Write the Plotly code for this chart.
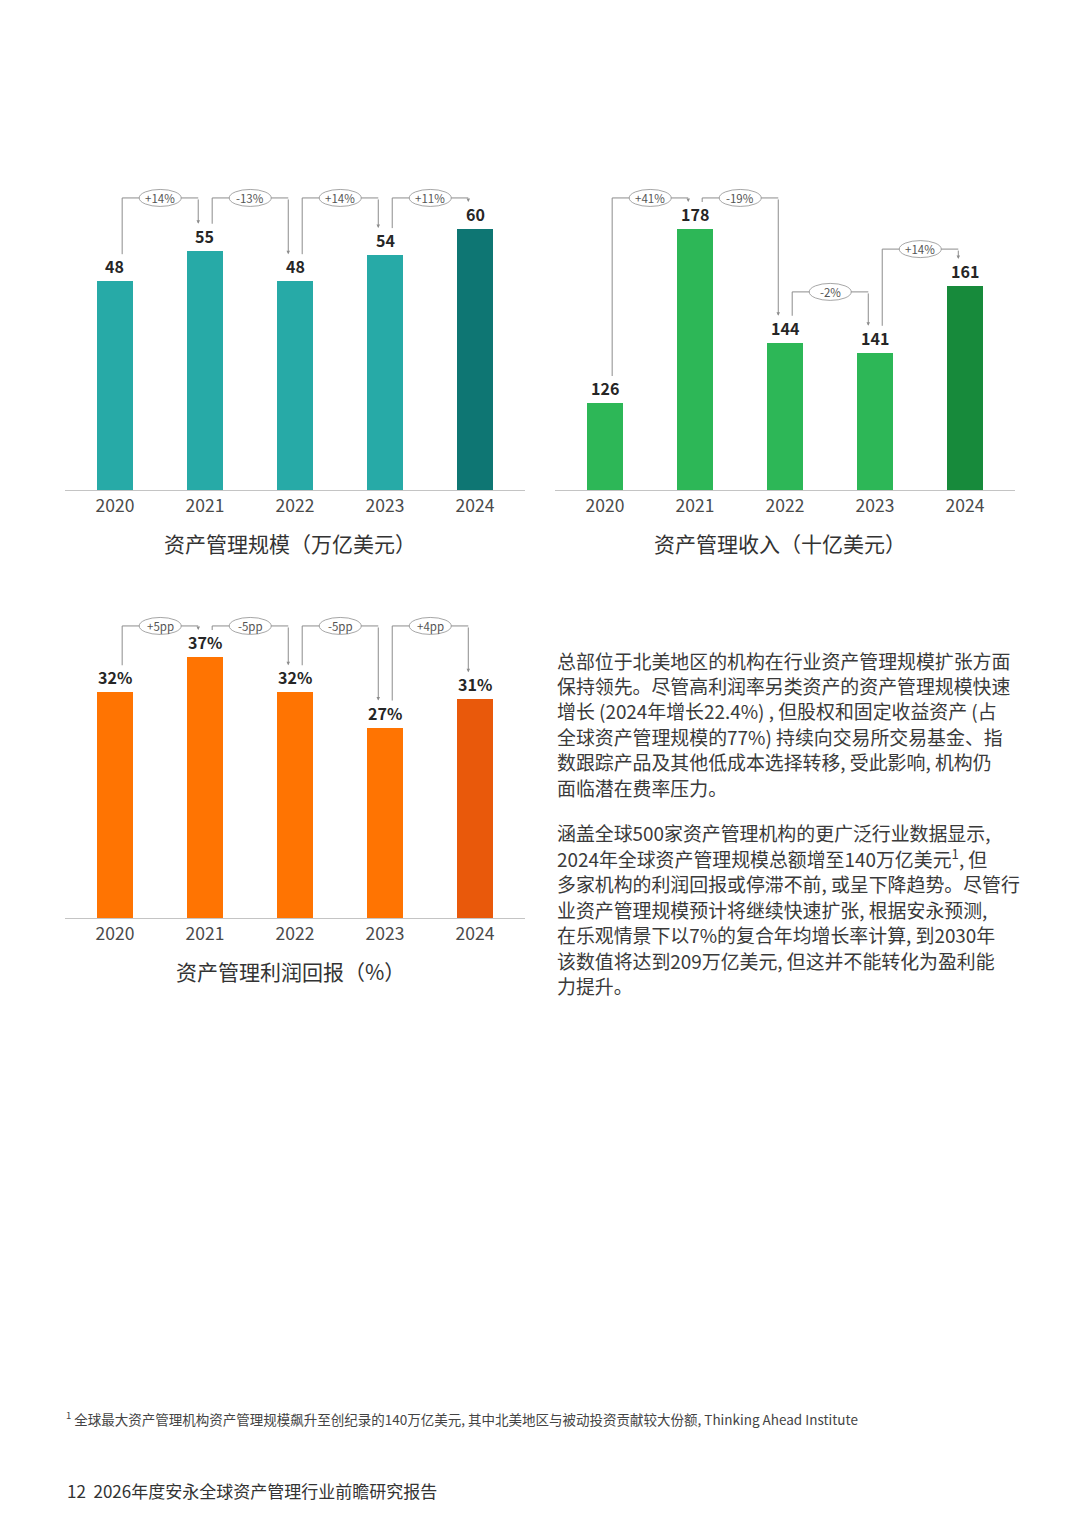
import plotly.graph_objects as go

# %% Data
years = ["2020", "2021", "2022", "2023", "2024"]

aum = [48, 55, 48, 54, 60]
aum_change = ["+14%", "-13%", "+14%", "+11%"]

revenue = [126, 178, 144, 141, 161]
revenue_change = ["+41%", "-19%", "-2%", "+14%"]

profit = [32, 37, 32, 27, 31]
profit_change = ["+5pp", "-5pp", "-5pp", "+4pp"]

para1 = [
    "总部位于北美地区的机构在行业资产管理规模扩张方面",
    "保持领先。尽管高利润率另类资产的资产管理规模快速",
    "增长 (2024年增长22.4%) , 但股权和固定收益资产 (占",
    "全球资产管理规模的77%) 持续向交易所交易基金、指",
    "数跟踪产品及其他低成本选择转移, 受此影响, 机构仍",
    "面临潜在费率压力。",
]
para2 = [
    "涵盖全球500家资产管理机构的更广泛行业数据显示,",
    "2024年全球资产管理规模总额增至140万亿美元<sup>1</sup>, 但",
    "多家机构的利润回报或停滞不前, 或呈下降趋势。尽管行",
    "业资产管理规模预计将继续快速扩张, 根据安永预测,",
    "在乐观情景下以7%的复合年均增长率计算, 到2030年",
    "该数值将达到209万亿美元, 但这并不能转化为盈利能",
    "力提升。",
]
footnote = ("<sup>1</sup> 全球最大资产管理机构资产管理规模飙升至创纪录的140万亿美元, "
            "其中北美地区与被动投资贡献较大份额, Thinking Ahead Institute")
footer = "12  2026年度安永全球资产管理行业前瞻研究报告"

# %% Layout helpers
W, H = 1080, 1526
OFF = 8          # page body margin of the html file
FONT = "Noto Sans CJK SC"


def py(px):
    return 1 - (px - OFF) / H


def px_(px):
    return (px - OFF) / W


charts = [
    dict(ax="", vals=aum, chg=aum_change, suffix="", base_val=0,
         color="#27AAA7", last="#0E7673", title="资产管理规模（万亿美元）",
         xdom=(65, 525), base=490, levels=[1.119, 1.119, 1.119, 1.119]),
    dict(ax="2", vals=revenue, chg=revenue_change, suffix="", base_val=100,
         color="#2DB757", last="#178A3B", title="资产管理收入（十亿美元）",
         xdom=(555, 1015), base=490, levels=[1.119, 1.119, 0.759, 0.923]),
    dict(ax="3", vals=profit, chg=profit_change, suffix="%", base_val=0,
         color="#FF7402", last="#E9590B", title="资产管理利润回报（%）",
         xdom=(65, 525), base=918, levels=[1.119, 1.119, 1.119, 1.119]),
]

PLOT_H = 320   # plot area height in px
PEAK_H = 261   # px height of the tallest bar
GAP = 27       # px between bar top and bracket end

fig = go.Figure()
shapes = []
annotations = []
layout = {}

for c in charts:
    xa, ya = "x" + c["ax"], "y" + c["ax"]
    b0 = c["base_val"]
    span = max(c["vals"]) - b0
    ymax = b0 + span * PLOT_H / PEAK_H
    gap = span * GAP / PEAK_H
    colors = [c["color"]] * (len(years) - 1) + [c["last"]]

    fig.add_trace(go.Bar(
        x=list(range(len(years))), y=[v - b0 for v in c["vals"]], base=b0,
        marker_color=colors, marker_line_width=0, width=0.4,
        xaxis=xa, yaxis=ya, hoverinfo="skip", showlegend=False,
    ))

    layout["xaxis" + c["ax"]] = dict(
        domain=[px_(c["xdom"][0]), px_(c["xdom"][1])], range=[-0.555, 4.555],
        anchor=ya, tickvals=list(range(len(years))), ticktext=years,
        showline=True, linecolor="#c4c4c4", linewidth=1, showgrid=False,
        zeroline=False, ticks="", tickfont=dict(size=17.5, color="#4a4a4a", family=FONT),
        fixedrange=True,
    )
    layout["yaxis" + c["ax"]] = dict(
        domain=[py(c["base"]), py(c["base"] - PLOT_H)], range=[b0, ymax],
        anchor=xa, visible=False, fixedrange=True,
    )

    # value labels
    for i, v in enumerate(c["vals"]):
        annotations.append(dict(
            x=i, y=v, xref=xa, yref=ya, text=f"<b>{v}{c['suffix']}</b>",
            showarrow=False, yanchor="bottom", yshift=1,
            font=dict(size=16, color="#262626", family=FONT),
        ))

    # change brackets
    for i, label in enumerate(c["chg"]):
        top = b0 + span * c["levels"][i]
        x_l, x_r = i + 0.08, i + 1 - 0.075
        y_l = c["vals"][i] + gap
        y_r = c["vals"][i + 1] + gap
        shapes.append(dict(
            type="path", xref=xa, yref=ya,
            path=f"M {x_l},{y_l} L {x_l},{top} L {x_r},{top}",
            line=dict(color="#8c8c8c", width=1),
        ))
        annotations.append(dict(
            x=x_r, y=y_r, ax=x_r, ay=top, xref=xa, yref=ya, axref=xa, ayref=ya,
            text="", showarrow=True, arrowhead=2, arrowsize=0.7, arrowwidth=1,
            arrowcolor="#8c8c8c", standoff=0,
        ))
        mid = (x_l + x_r) / 2
        shapes.append(dict(
            type="circle", xref=xa, yref=ya, xsizemode="pixel", ysizemode="pixel",
            xanchor=mid, yanchor=top, x0=-21, x1=21, y0=-8.5, y1=8.5,
            fillcolor="white", line=dict(color="#8f8f8f", width=0.8),
        ))
        annotations.append(dict(
            x=mid, y=top, xref=xa, yref=ya, text=label, showarrow=False,
            font=dict(size=11.5, color="#555555", family=FONT),
        ))

    # chart title
    annotations.append(dict(
        x=px_((c["xdom"][0] + c["xdom"][1]) / 2 - 5), y=py(c["base"] + 53),
        xref="paper", yref="paper", xanchor="center", yanchor="middle",
        text=c["title"], showarrow=False,
        font=dict(size=21, color="#333333", family=FONT),
    ))

# body text
LINE = 25.4
for start, lines in [(660, para1), (833, para2)]:
    for k, line in enumerate(lines):
        annotations.append(dict(
            x=px_(555), y=py(start + k * LINE), xref="paper", yref="paper",
            xanchor="left", yanchor="middle", text=line, showarrow=False,
            font=dict(size=18.9, color="#3a3a3a", family=FONT),
        ))

annotations.append(dict(
    x=px_(64), y=py(1418), xref="paper", yref="paper", xanchor="left",
    yanchor="middle", text=footnote, showarrow=False,
    font=dict(size=13.5, color="#444444", family=FONT),
))
annotations.append(dict(
    x=px_(65), y=py(1490), xref="paper", yref="paper", xanchor="left",
    yanchor="middle", text=footer, showarrow=False,
    font=dict(size=17, color="#333333", family=FONT),
))

fig.update_layout(
    width=W, height=H, margin=dict(l=0, r=0, t=0, b=0),
    paper_bgcolor="white", plot_bgcolor="white", bargap=0,
    shapes=shapes, annotations=annotations, font=dict(family=FONT),
    **layout,
)

fig.write_html("out.html")
